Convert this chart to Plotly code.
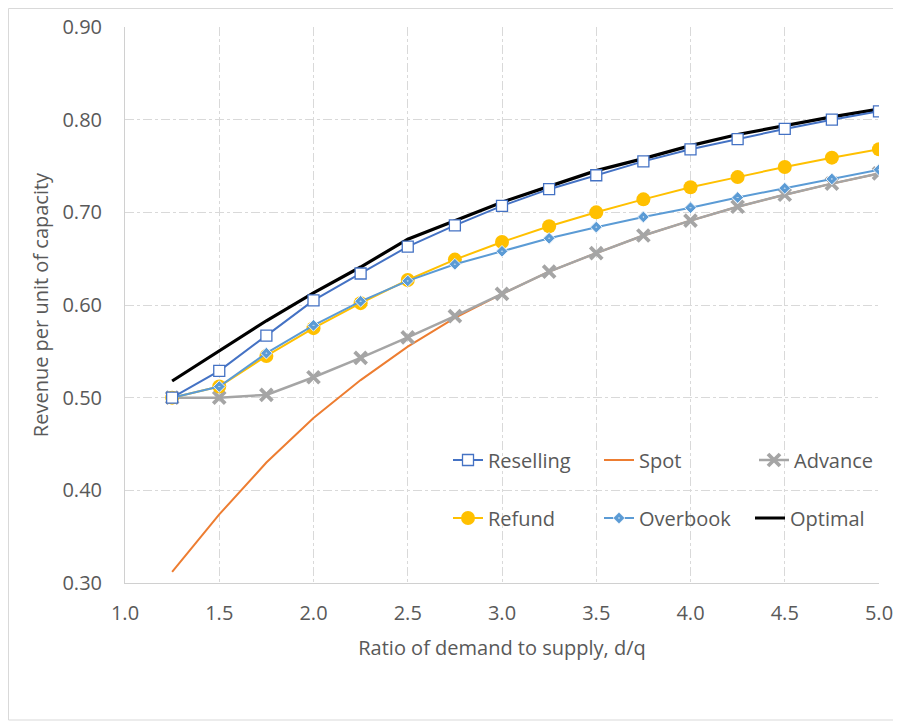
import plotly.graph_objects as go

ratio = [1.25, 1.5, 1.75, 2.0, 2.25, 2.5, 2.75, 3.0, 3.25, 3.5, 3.75, 4.0, 4.25, 4.5, 4.75, 5.0]

reselling = [0.500, 0.529, 0.567, 0.605, 0.634, 0.663, 0.686, 0.707, 0.725, 0.740, 0.755, 0.768, 0.779, 0.790, 0.800, 0.809]
spot      = [0.312, 0.374, 0.430, 0.478, 0.519, 0.555, 0.586, 0.612, 0.636, 0.656, 0.675, 0.691, 0.706, 0.719, 0.731, 0.742]
advance   = [0.500, 0.500, 0.503, 0.522, 0.543, 0.565, 0.588, 0.612, 0.636, 0.656, 0.675, 0.691, 0.706, 0.719, 0.731, 0.742]
refund    = [0.500, 0.512, 0.545, 0.575, 0.602, 0.627, 0.649, 0.668, 0.685, 0.700, 0.714, 0.727, 0.738, 0.749, 0.759, 0.768]
overbook  = [0.500, 0.512, 0.548, 0.578, 0.604, 0.626, 0.644, 0.658, 0.672, 0.684, 0.695, 0.705, 0.716, 0.726, 0.736, 0.746]
optimal   = [0.518, 0.551, 0.583, 0.613, 0.641, 0.671, 0.691, 0.711, 0.728, 0.745, 0.758, 0.772, 0.784, 0.7935, 0.803, 0.8115]

TXT = "#595959"
GRID = "#D9D9D9"
FONT = "Open Sans, sans-serif"

# page is offset by the 8px body margin: figure spans page x 8..901, y 8..725
OFF = 8
PL, PR, PT, PB = 125, 879, 27, 583  # plot area in page pixels
W, H = 901 - OFF, 725 - OFF


def px(xp):
    return (xp - PL) / (PR - PL)


def py(yp):
    return (PB - yp) / (PB - PT)


fig = go.Figure()

fig.add_trace(go.Scatter(x=ratio, y=spot, name="Spot", mode="lines",
                         line=dict(color="#ED7D31", width=2), legend="legend2"))
fig.add_trace(go.Scatter(x=ratio, y=advance, name="Advance", mode="lines+markers",
                         line=dict(color="#A5A5A5", width=2.5),
                         marker=dict(symbol="x-thin", size=12, line=dict(color="#A5A5A5", width=3.8)),
                         legend="legend3"))
fig.add_trace(go.Scatter(x=ratio, y=refund, name="Refund", mode="lines+markers",
                         line=dict(color="#FFC000", width=2),
                         marker=dict(symbol="circle", size=14, color="#FFC000"),
                         legend="legend4"))
fig.add_trace(go.Scatter(x=ratio, y=overbook, name="Overbook", mode="lines+markers",
                         line=dict(color="#5B9BD5", width=2),
                         marker=dict(symbol="diamond-dot", size=9, color="#5B9BD5",
                                     line=dict(color="#E8F1FA", width=1)),
                         legend="legend5"))
fig.add_trace(go.Scatter(x=ratio, y=optimal, name="Optimal", mode="lines",
                         line=dict(color="#000000", width=3.2), legend="legend6"))
fig.add_trace(go.Scatter(x=ratio, y=reselling, name="Reselling", mode="lines+markers",
                         line=dict(color="#4472C4", width=2),
                         marker=dict(symbol="square", size=11, color="#FFFFFF",
                                     line=dict(color="#4472C4", width=1.3)),
                         legend="legend"))

leg_common = dict(orientation="h", yanchor="middle",
                  font=dict(family=FONT, size=20, color=TXT),
                  bgcolor="rgba(255,255,255,0)", itemwidth=30)

row1, row2 = py(460), py(518)
col1, col2, col3 = px(448), px(599), px(750)

fig.update_layout(
    width=W, height=H,
    margin=dict(l=PL - OFF, r=901 - PR, t=PT - OFF, b=725 - PB),
    paper_bgcolor="white", plot_bgcolor="white",
    showlegend=True,
    legend=dict(x=col1, y=row1, xanchor="left", **leg_common),
    legend2=dict(x=col2, y=row1, xanchor="left", **leg_common),
    legend3=dict(x=1.0, y=row1, xanchor="right", **leg_common),
    legend4=dict(x=col1, y=row2, xanchor="left", **leg_common),
    legend5=dict(x=col2, y=row2, xanchor="left", **leg_common),
    legend6=dict(x=col3, y=row2, xanchor="left", **leg_common),
    xaxis=dict(range=[1.0, 5.0], dtick=0.5, tick0=1.0, tickformat=".1f",
               automargin=False,
               showgrid=True, gridcolor=GRID, griddash="dashdot", gridwidth=1,
               showline=True, linecolor="#D0D0D0", linewidth=1, zeroline=False,
               ticks="", ticklabelstandoff=12,
               tickfont=dict(family=FONT, size=20, color=TXT),
               title=dict(text="Ratio of demand to supply, d/q", standoff=15,
                          font=dict(family=FONT, size=20, color=TXT))),
    yaxis=dict(range=[0.3, 0.9], dtick=0.1, tick0=0.3, tickformat=".2f",
               automargin=False,
               showgrid=True, gridcolor=GRID, griddash="dashdot", gridwidth=1,
               showline=True, linecolor="#D0D0D0", linewidth=1, zeroline=False,
               ticks="", ticklabelstandoff=18,
               tickfont=dict(family=FONT, size=20, color=TXT),
               title=dict(text="Revenue per unit of capacity", standoff=8,
                          font=dict(family=FONT, size=20, color=TXT))),
)

fig.add_shape(type="rect", xref="paper", yref="paper",
              x0=px(8.5), x1=px(896), y0=py(720), y1=py(8.5),
              line=dict(color="#D9D9D9", width=1), fillcolor="rgba(0,0,0,0)", layer="below")

fig.write_html("out.html")
